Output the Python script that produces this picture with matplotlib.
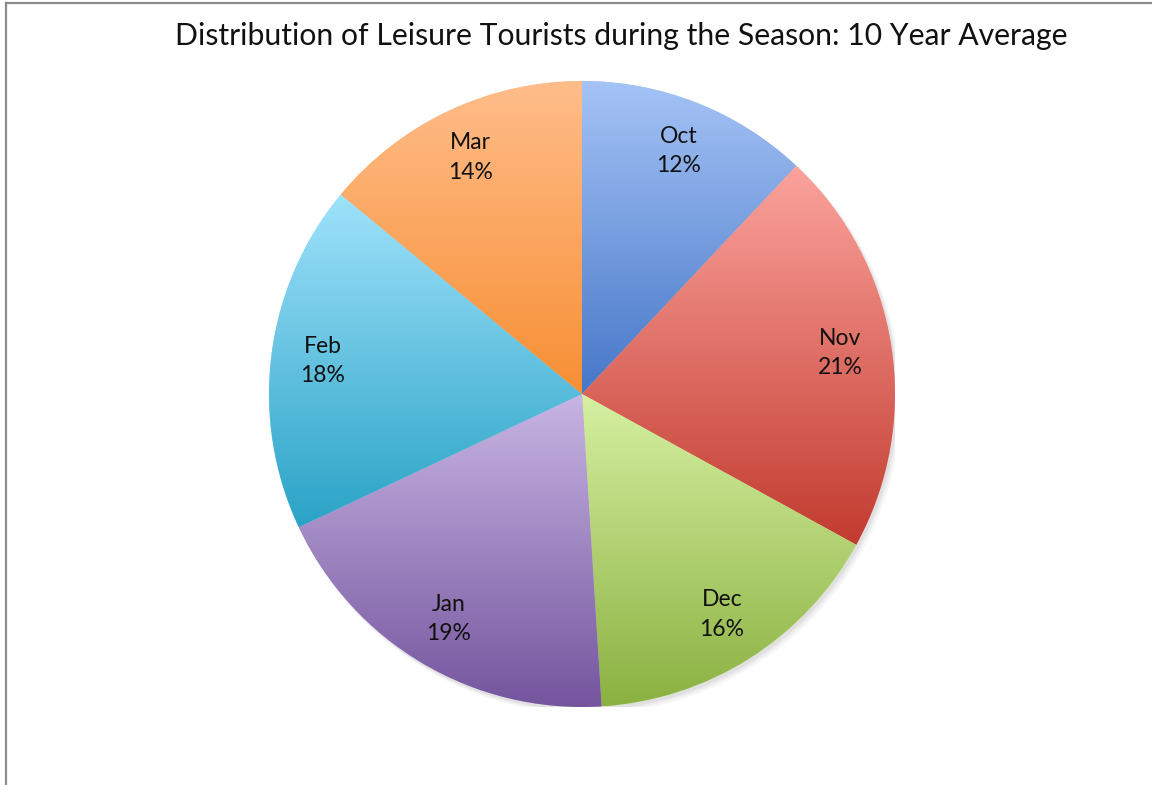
import numpy as np
import matplotlib.pyplot as plt
from matplotlib.colors import LinearSegmentedColormap
from matplotlib.lines import Line2D
from matplotlib.patches import Circle

plt.rcParams['font.family'] = ['Lato', 'DejaVu Sans']

months = ['Oct', 'Nov', 'Dec', 'Jan', 'Feb', 'Mar']
shares = [12, 21, 16, 19, 18, 14]

# light (top) and dark (bottom) colour for each slice's gradient
top_colors = ['#a5c3f5', '#fba39d', '#d6f0a2', '#c8b5e3', '#9fe2fb', '#ffbd8a']
bottom_colors = ['#4677c8', '#c23b2f', '#8bb141', '#74559e', '#2aa3c6', '#f78f34']

fig = plt.figure(figsize=(11.52, 7.85), dpi=100)
ax = fig.add_axes([269 / 1152, 78 / 785, 626 / 1152, 626 / 785])

labels = [f'{m}\n{s}%' for m, s in zip(months, shares)]
wedges, texts = ax.pie(shares, labels=labels, startangle=90, counterclock=False,
                       labeldistance=0.835, radius=1,
                       wedgeprops=dict(linewidth=0),
                       textprops=dict(ha='center', va='center', fontsize=16.5,
                                      color='#111111', linespacing=1.5))

# soft drop shadow behind the pie
for i, a in enumerate([0.05, 0.04, 0.03]):
    sh = Circle((0.008 + 0.004 * i, -0.010 - 0.004 * i), 1.0 + 0.002 * i,
                facecolor='#000000', alpha=a, linewidth=0, zorder=0)
    ax.add_patch(sh)

# vertical gradient fill clipped to each wedge
grad = np.linspace(0, 1, 256).reshape(-1, 1)
for w, c0, c1 in zip(wedges, top_colors, bottom_colors):
    ext = w.get_path().get_extents()
    cmap = LinearSegmentedColormap.from_list('g', [c0, c1])
    im = ax.imshow(grad, cmap=cmap, aspect='auto', origin='upper',
                   extent=(ext.x0, ext.x1, ext.y0, ext.y1), zorder=1.5,
                   interpolation='bilinear')
    im.set_clip_path(w)
    w.set_facecolor(c0)

for t in texts:
    t.set_zorder(3)

ax.set_xlim(-1, 1)
ax.set_ylim(-1, 1)
ax.set_aspect('auto')
ax.axis('off')

fig.text(621 / 1152, 1 - 36 / 785,
         'Distribution of Leisure Tourists during the Season: 10 Year Average',
         ha='center', va='center', fontsize=21.7, color='#111111')

# chart frame (left and top edges)
fig.add_artist(Line2D([6 / 1152, 6 / 1152], [0, 1 - 3 / 785], color='#8c8c8c', lw=1.6))
fig.add_artist(Line2D([6 / 1152, 1], [1 - 3 / 785, 1 - 3 / 785], color='#8c8c8c', lw=1.6))

fig.savefig('out.png', dpi=100, facecolor='white')
